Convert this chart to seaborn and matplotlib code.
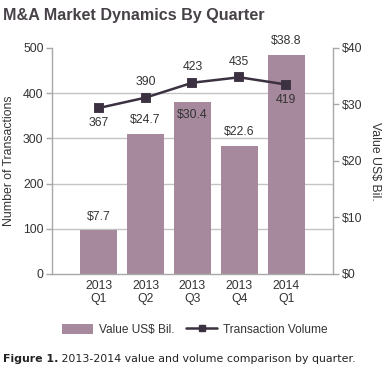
import pandas as pd
import seaborn as sns
import matplotlib.pyplot as plt
from matplotlib.patches import Patch
from matplotlib.lines import Line2D

# data
quarters = ['2013\nQ1', '2013\nQ2', '2013\nQ3', '2013\nQ4', '2014\nQ1']
value_bil = [7.7, 24.7, 30.4, 22.6, 38.8]
volume = [367, 390, 423, 435, 419]
value_labels = ['$7.7', '$24.7', '$30.4', '$22.6', '$38.8']

df = pd.DataFrame({'Quarter': quarters, 'Value': value_bil, 'Volume': volume})

bar_color = '#a6899d'
line_color = '#3b3140'
grid_color = '#c4c4c4'
text_color = '#333333'

sns.set_theme(style='white')
plt.rcParams['font.family'] = ['Liberation Sans', 'DejaVu Sans']

fig = plt.figure(figsize=(3.9, 3.8), dpi=100)
ax = fig.add_axes([0.133, 0.279, 0.721, 0.595])
ax2 = ax.twinx()

# bars on the value (right) axis
sns.barplot(data=df, x='Quarter', y='Value', ax=ax2, color=bar_color,
            width=0.79, saturation=1, edgecolor='none')

# line on the transaction (left) axis
sns.pointplot(data=df, x='Quarter', y='Volume', ax=ax, color=line_color,
              markers='s', linestyles='-', markersize=5.5, linewidth=1.8)

# line above bars
ax.set_zorder(ax2.get_zorder() + 1)
ax.patch.set_visible(False)

ax.set_ylim(0, 500)
ax2.set_ylim(0, 40)
ax.set_xlim(-1, 5)
ax.set_yticks([0, 100, 200, 300, 400, 500])
ax2.set_yticks([0, 10, 20, 30, 40])
ax2.set_yticklabels(['$0', '$10', '$20', '$30', '$40'])

# grid lines follow the left axis but sit behind the bars
ax2.set_yticks([0, 8, 16, 24, 32, 40], minor=True)
ax2.yaxis.grid(True, which='minor', color=grid_color, linewidth=1)
ax2.tick_params(axis='y', which='minor', length=0)
ax.grid(False)

for a in (ax, ax2):
    for s in a.spines.values():
        s.set_visible(False)
ax.spines['left'].set_visible(True)
ax.spines['bottom'].set_visible(True)
ax2.spines['right'].set_visible(True)
for s in (ax.spines['left'], ax.spines['bottom'], ax2.spines['right']):
    s.set_color('#a8a8a8')
    s.set_linewidth(1)

ax.tick_params(axis='y', which='major', direction='out', length=4, width=1,
               color='#a8a8a8', labelsize=8.8, labelcolor=text_color, pad=2, left=True)
ax2.tick_params(axis='y', which='major', direction='out', length=4, width=1,
                color='#a8a8a8', labelsize=8.8, labelcolor=text_color, pad=2, right=True)
ax.tick_params(axis='x', length=0, labelsize=8.8, labelcolor=text_color, pad=4)
ax2.tick_params(axis='x', length=0)

ax.set_xlabel('')
ax2.set_xlabel('')
ax.set_ylabel('Number of Transactions', fontsize=8.8, color=text_color, labelpad=6)
ax2.set_ylabel('Value US$ Bil.', fontsize=8.8, color=text_color, rotation=270,
               labelpad=14)

# bar value labels
for i, (v, lab) in enumerate(zip(value_bil, value_labels)):
    off = -9 if i == 2 else 10
    ax2.annotate(lab, (i, v), xytext=(0, off), textcoords='offset points',
                 ha='center', va='center', fontsize=8.8, color=text_color)

# volume labels
vol_pos = ['below', 'above', 'above', 'above', 'below']
for i, (n, p) in enumerate(zip(volume, vol_pos)):
    off = 11 if p == 'above' else -11
    ax.annotate(str(n), (i, n), xytext=(0, off), textcoords='offset points',
                ha='center', va='center', fontsize=8.8, color=text_color)

handles = [Patch(facecolor=bar_color, edgecolor='none'),
           Line2D([0], [0], color=line_color, marker='s', markersize=5, linewidth=1.8)]
fig.legend(handles, ['Value US$ Bil.', 'Transaction Volume'], loc='center',
           bbox_to_anchor=(0.5, 0.132), ncol=2, frameon=False, fontsize=8.6,
           handlelength=2.6, handleheight=0.9, columnspacing=1.0, handletextpad=0.5,
           labelcolor=text_color)

fig.text(0.008, 0.958, 'M&A Market Dynamics By Quarter', fontsize=11.6,
         fontweight='bold', color='#474247', va='center', ha='left')

cap = fig.text(0.008, 0.055, 'Figure 1.', fontsize=7.95, fontweight='bold',
               family='DejaVu Sans', color='#222222', va='center', ha='left')
ax.annotate(' 2013-2014 value and volume comparison by quarter.', xy=(1, 0.5),
            xycoords=cap, xytext=(0, 0), textcoords='offset points',
            fontsize=7.95, family='DejaVu Sans', color='#222222',
            va='center', ha='left', annotation_clip=False)

fig.savefig('out.png', dpi=100, facecolor='white')
